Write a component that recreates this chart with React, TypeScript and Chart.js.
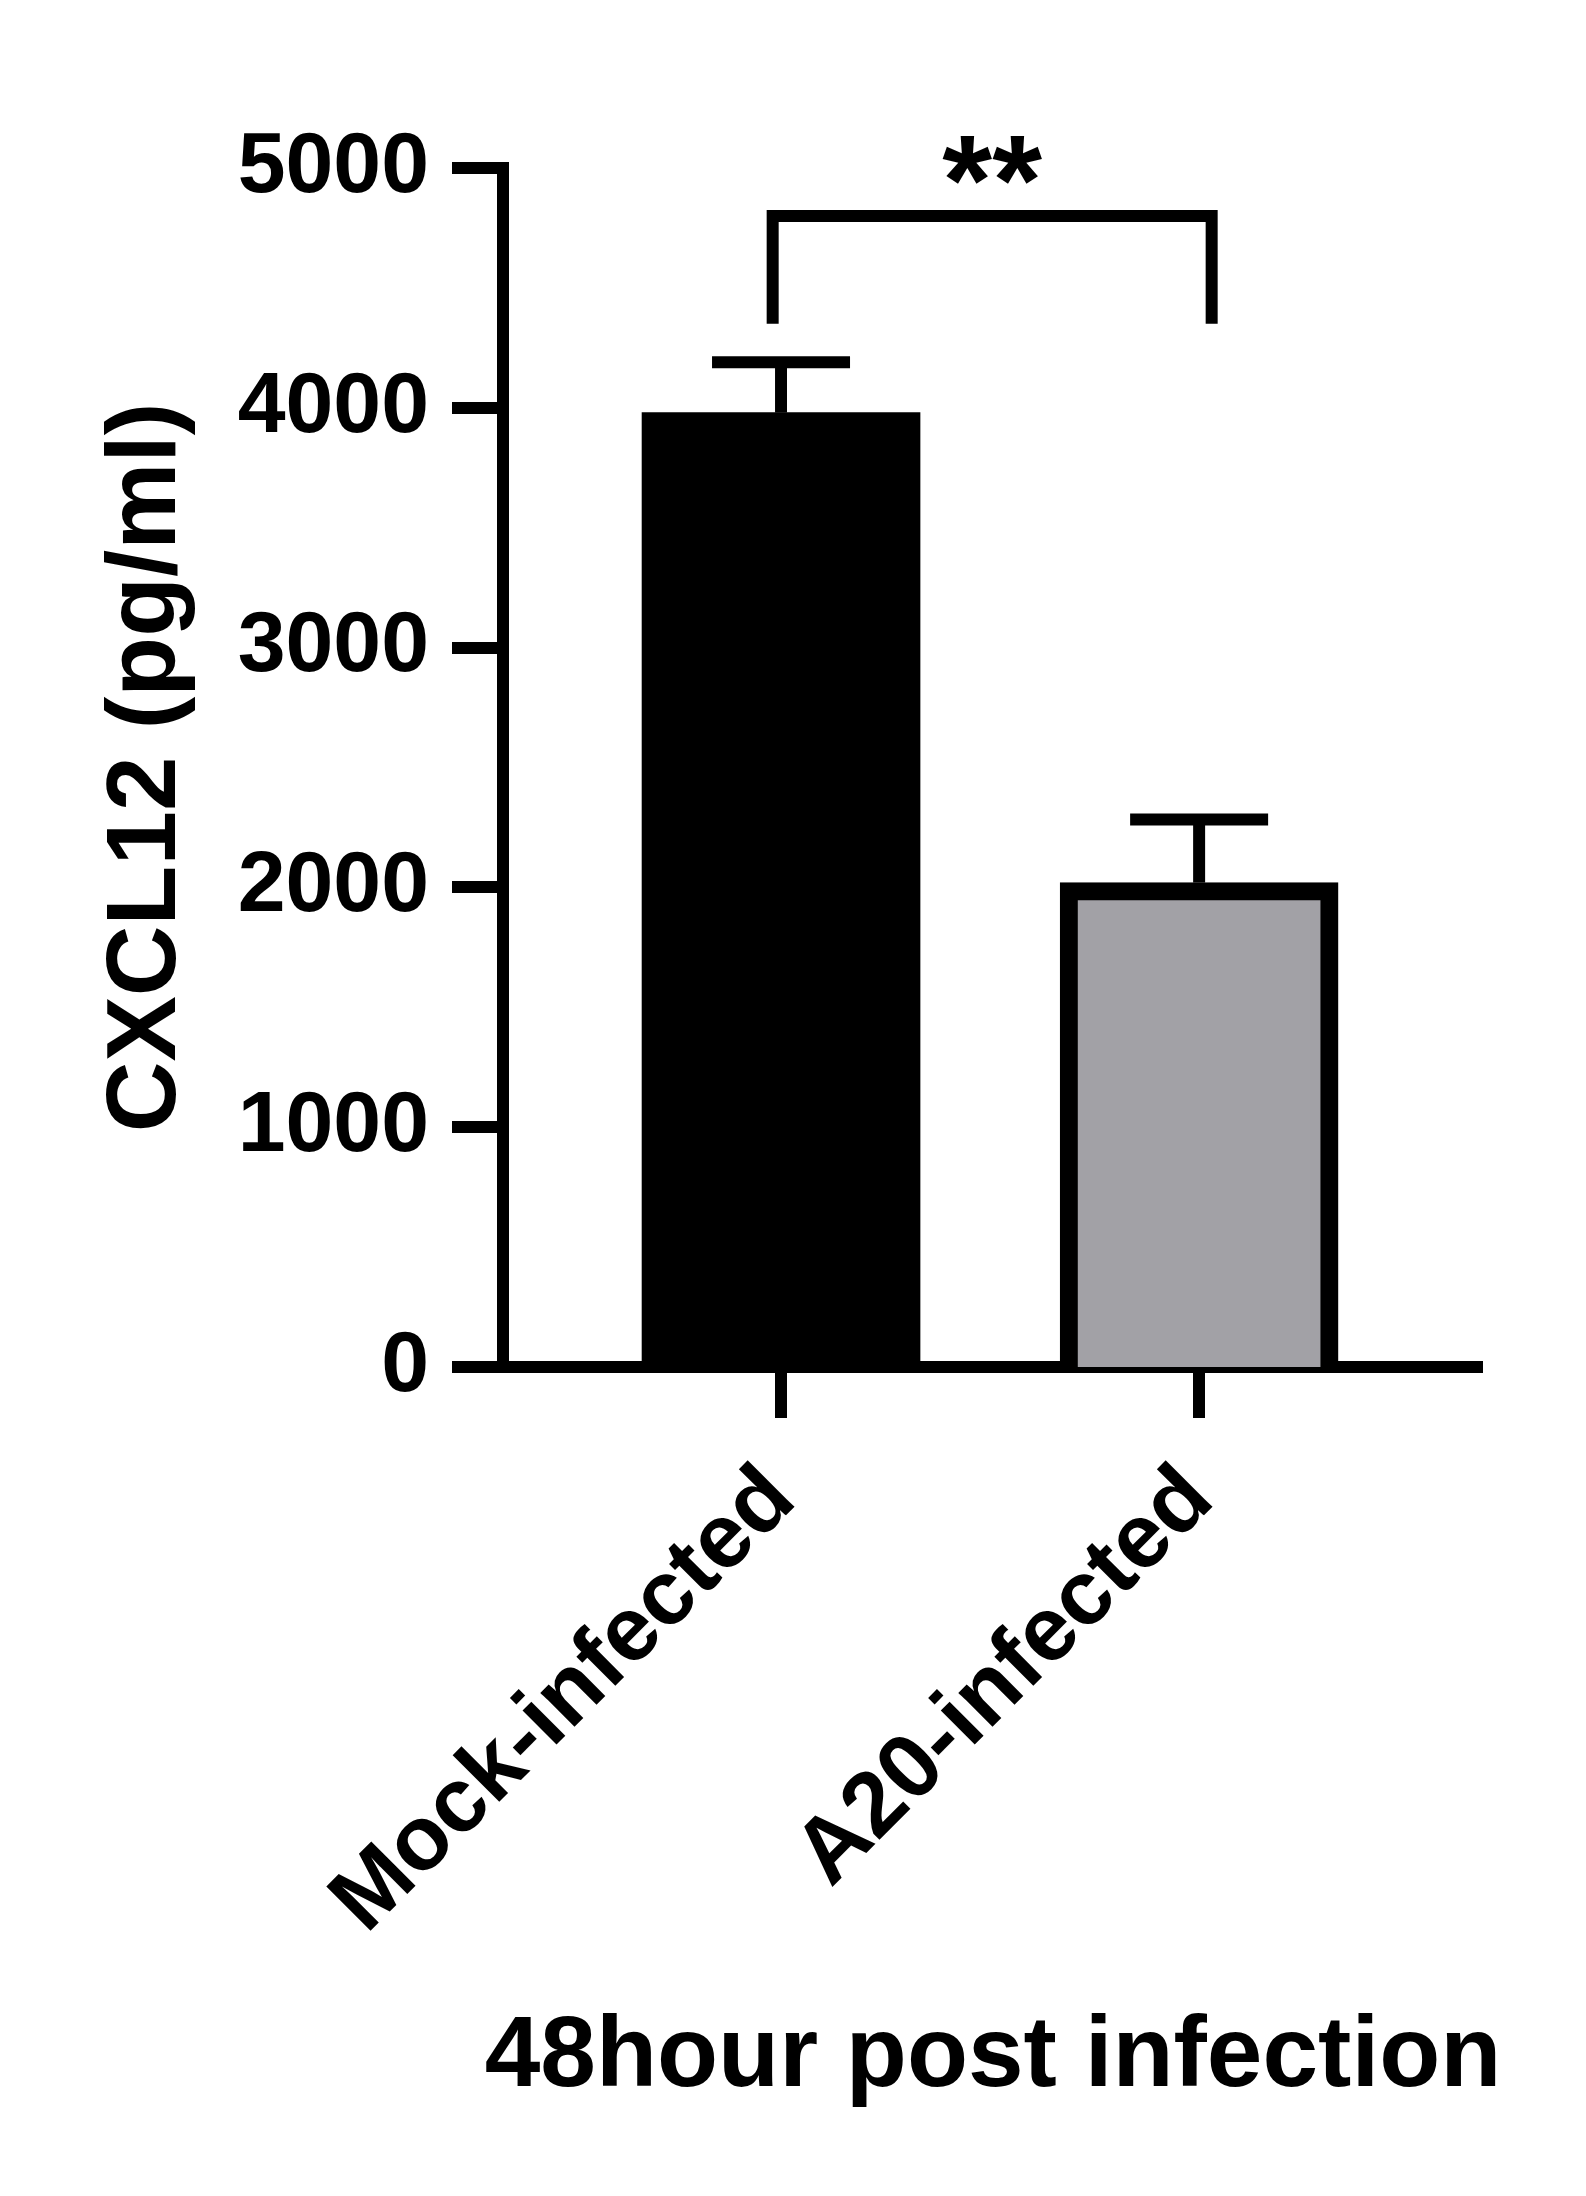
import React, { useEffect, useRef } from "react";
import { Chart, registerables } from "chart.js";

Chart.register(...registerables);

// ---- data ----
const categories = ["Mock-infected", "A20-infected"];
const categoryPositions = [0, 1];
const meanValues = [3980, 2020];
const errorUpper = [4190, 2283];
const yTicks = [0, 1000, 2000, 3000, 4000, 5000];
const bracketX = [-0.02, 1.03];
const bracketY = 4800;
const bracketLegY = 4350;
const significance = "**";
const yTitle = "CXCL12 (pg/ml)";
const xTitle = "48hour post infection";

// ---- styles ----
const FONT = "'Liberation Sans', Arial, Helvetica, sans-serif";
const barColors = ["#000000", "#a2a1a6"];
const barBorderWidths = [0, 18];
const LINE = 12;

const annotationPlugin = {
  id: "errorBarsAndBracket",
  afterDatasetsDraw(chart: any) {
    const { ctx, scales } = chart;
    const x = scales.x;
    const y = scales.y;
    ctx.save();
    ctx.strokeStyle = "#000";
    ctx.fillStyle = "#000";
    ctx.lineWidth = LINE;
    ctx.lineCap = "butt";
    ctx.lineJoin = "miter";
    categoryPositions.forEach((pos, i) => {
      const px = x.getPixelForValue(pos);
      const top = y.getPixelForValue(meanValues[i]);
      const err = y.getPixelForValue(errorUpper[i]);
      ctx.beginPath();
      ctx.moveTo(px, top);
      ctx.lineTo(px, err);
      ctx.stroke();
      ctx.beginPath();
      ctx.moveTo(px - 69, err);
      ctx.lineTo(px + 69, err);
      ctx.stroke();
    });
    const lx = x.getPixelForValue(bracketX[0]);
    const rx = x.getPixelForValue(bracketX[1]);
    const by = y.getPixelForValue(bracketY);
    const ly = y.getPixelForValue(bracketLegY);
    ctx.beginPath();
    ctx.moveTo(lx, ly);
    ctx.lineTo(lx, by);
    ctx.lineTo(rx, by);
    ctx.lineTo(rx, ly);
    ctx.stroke();
    ctx.font = `bold 128px ${FONT}`;
    ctx.textAlign = "center";
    ctx.textBaseline = "alphabetic";
    ctx.fillText(significance, (lx + rx) / 2, by + 8);
    ctx.restore();
  },
  afterDraw(chart: any) {
    // x-axis title, drawn without Chart.js's maxWidth squeeze
    const { ctx, chartArea, scales } = chart;
    ctx.save();
    ctx.fillStyle = "#000";
    ctx.font = `bold 100px ${FONT}`;
    ctx.textAlign = "center";
    ctx.textBaseline = "alphabetic";
    ctx.fillText(xTitle, (chartArea.left + chartArea.right) / 2, scales.x.bottom - 110);
    ctx.restore();
  },
};

export default function App() {
  const ref = useRef<HTMLCanvasElement | null>(null);

  useEffect(() => {
    if (!ref.current) return;
    const chart = new Chart(ref.current, {
      type: "bar",
      data: {
        datasets: [
          {
            data: categoryPositions.map((p, i) => ({ x: p, y: meanValues[i] })),
            backgroundColor: barColors,
            borderColor: "#000000",
            borderWidth: barBorderWidths,
            barThickness: 278,
          } as any,
        ],
      },
      options: {
        animation: false,
        responsive: false,
        maintainAspectRatio: false,
        devicePixelRatio: 1,
        layout: { padding: { top: 168, right: 103, bottom: 0, left: 0 } },
        plugins: {
          legend: { display: false },
          tooltip: { enabled: false },
        },
        scales: {
          x: {
            type: "linear",
            min: -0.665,
            max: 1.679,
            offset: false,
            afterBuildTicks: (s: any) => {
              s.ticks = categoryPositions.map((v) => ({ value: v }));
            },
            afterFit: (s: any) => {
              s.height = 829;
            },
            ticks: {
              callback: (v: any) => {
                const i = categoryPositions.indexOf(Number(v));
                return i >= 0 ? categories[i] : "";
              },
              minRotation: 45,
              maxRotation: 45,
              autoSkip: false,
              padding: 28,
              color: "#000",
              font: { family: FONT, size: 91, weight: "bold" },
            },
            grid: {
              display: true,
              offset: false,
              drawOnChartArea: false,
              drawTicks: true,
              tickLength: 51,
              tickWidth: LINE,
              tickColor: "#000",
              lineWidth: 0,
            },
            border: { display: true, color: "#000", width: LINE },
            title: { display: false },
          } as any,
          y: {
            type: "linear",
            min: 0,
            max: 5000,
            afterBuildTicks: (s: any) => {
              s.ticks = yTicks.map((v) => ({ value: v }));
            },
            afterFit: (s: any) => {
              s.width = 503;
            },
            ticks: {
              callback: (v: any) => String(v),
              padding: 23,
              color: "#000",
              font: { family: FONT, size: 86, weight: "bold" },
            },
            grid: {
              display: true,
              drawOnChartArea: false,
              drawTicks: true,
              tickLength: 51,
              tickWidth: LINE,
              tickColor: "#000",
              lineWidth: 0,
            },
            border: { display: true, color: "#000", width: LINE },
            title: {
              display: true,
              text: yTitle,
              color: "#000",
              font: { family: FONT, size: 98, weight: "bold" },
              padding: { top: 89, bottom: 0 },
            },
          } as any,
        },
      },
      plugins: [annotationPlugin],
    });
    return () => chart.destroy();
  }, []);

  return (
    <div style={{ position: "absolute", left: 0, top: 0, width: 1586, height: 2196, background: "#fff" }}>
      <canvas ref={ref} width={1586} height={2196} style={{ width: 1586, height: 2196, display: "block" }} />
    </div>
  );
}
